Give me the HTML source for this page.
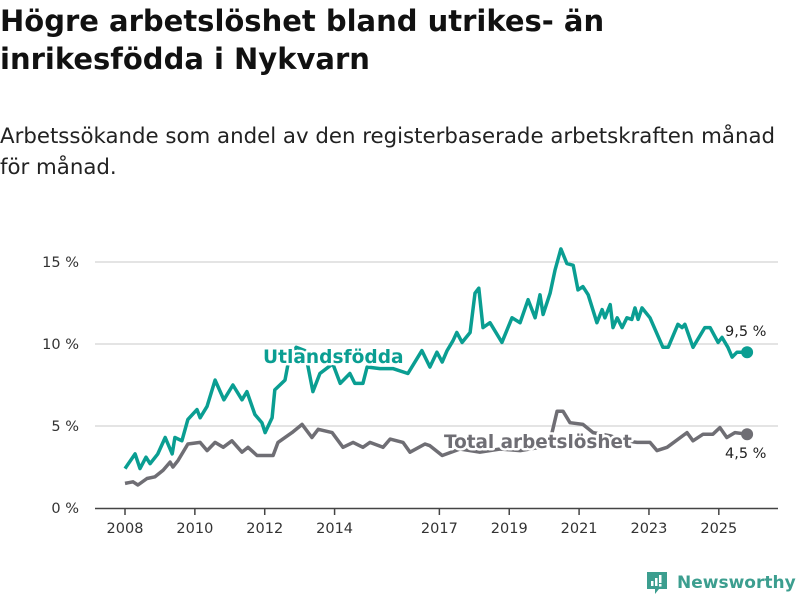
<!DOCTYPE html>
<html><head><meta charset="utf-8"><style>
body{margin:0;background:#fff;width:800px;height:600px;overflow:hidden;font-family:"DejaVu Sans","Liberation Sans",sans-serif;}
h1{position:absolute;left:0;top:2px;margin:0;font-size:29px;line-height:38px;font-weight:bold;color:#111;width:820px;white-space:nowrap}
.sub{position:absolute;left:0;top:121px;margin:0;font-size:21.3px;line-height:31px;color:#222;width:820px;white-space:nowrap}
svg{position:absolute;left:0;top:0}
</style></head><body>
<h1>Högre arbetslöshet bland utrikes- än<br>inrikesfödda i Nykvarn</h1>
<p class="sub">Arbetssökande som andel av den registerbaserade arbetskraften månad<br>för månad.</p>
<svg id="chart" width="800" height="600"></svg>
<script>
const yTicks=[0,5,10,15];
const yTickLabels=["0 %","5 %","10 %","15 %"];
const xTicks=[2008,2010,2012,2014,2017,2019,2021,2023,2025];
const foreignYears=[2008.00,2008.29,2008.43,2008.60,2008.72,2008.94,2009.15,2009.35,2009.43,2009.63,2009.80,2010.06,2010.15,2010.35,2010.58,2010.83,2011.09,2011.35,2011.49,2011.72,2011.92,2012.01,2012.21,2012.29,2012.58,2012.67,2012.90,2013.15,2013.38,2013.58,2013.95,2014.16,2014.44,2014.58,2014.81,2014.93,2015.30,2015.67,2016.10,2016.50,2016.73,2016.93,2017.08,2017.22,2017.39,2017.50,2017.65,2017.88,2018.02,2018.13,2018.25,2018.45,2018.79,2019.08,2019.31,2019.54,2019.74,2019.88,2019.97,2020.17,2020.31,2020.48,2020.65,2020.83,2020.97,2021.11,2021.26,2021.51,2021.66,2021.74,2021.89,2021.97,2022.09,2022.23,2022.37,2022.51,2022.60,2022.69,2022.80,2023.03,2023.40,2023.55,2023.83,2023.95,2024.03,2024.26,2024.60,2024.75,2024.98,2025.09,2025.26,2025.38,2025.52,2025.81];
const foreignValues=[2.4,3.3,2.4,3.1,2.7,3.3,4.3,3.3,4.3,4.1,5.4,6.0,5.5,6.2,7.8,6.6,7.5,6.6,7.1,5.7,5.2,4.6,5.5,7.2,7.8,8.8,9.8,9.6,7.1,8.2,8.8,7.6,8.2,7.6,7.6,8.6,8.5,8.5,8.2,9.6,8.6,9.5,8.9,9.6,10.2,10.7,10.1,10.7,13.1,13.4,11.0,11.3,10.1,11.6,11.3,12.7,11.6,13.0,11.8,13.1,14.5,15.8,14.9,14.8,13.3,13.5,13.0,11.3,12.1,11.6,12.4,11.0,11.6,11.0,11.6,11.5,12.2,11.5,12.2,11.6,9.8,9.8,11.2,11.0,11.2,9.8,11.0,11.0,10.1,10.4,9.8,9.2,9.5,9.5];
const totalYears=[2008.00,2008.23,2008.37,2008.63,2008.86,2009.09,2009.29,2009.37,2009.52,2009.80,2010.15,2010.35,2010.58,2010.81,2011.06,2011.35,2011.52,2011.78,2012.24,2012.38,2012.78,2013.07,2013.35,2013.53,2013.93,2014.24,2014.53,2014.81,2015.01,2015.39,2015.59,2015.96,2016.16,2016.59,2016.73,2017.08,2017.59,2018.16,2018.74,2019.31,2019.88,2020.17,2020.37,2020.54,2020.74,2021.11,2021.40,2021.89,2022.31,2022.66,2023.03,2023.23,2023.52,2024.09,2024.26,2024.55,2024.83,2025.03,2025.23,2025.46,2025.81];
const totalValues=[1.5,1.6,1.4,1.8,1.9,2.3,2.8,2.5,2.9,3.9,4.0,3.5,4.0,3.7,4.1,3.4,3.7,3.2,3.2,4.0,4.6,5.1,4.3,4.8,4.6,3.7,4.0,3.7,4.0,3.7,4.2,4.0,3.4,3.9,3.8,3.2,3.6,3.4,3.6,3.5,3.7,4.1,5.9,5.9,5.2,5.1,4.6,4.4,4.1,4.0,4.0,3.5,3.7,4.6,4.1,4.5,4.5,4.9,4.3,4.6,4.5];
const endLabels=["9,5 %","4,5 %"];

const NS="http://www.w3.org/2000/svg";
const svg=document.getElementById('chart');
const X=y=>125+(y-2008)*34.93;
const Y=v=>508-v*16.4;
function mk(tag,attrs,parent){const e=document.createElementNS(NS,tag);for(const k in attrs)e.setAttribute(k,attrs[k]);(parent||svg).appendChild(e);return e;}
yTicks.forEach((t,i)=>{
  if(t>0){const g=mk('line',{x1:95,x2:778,y1:Y(t),y2:Y(t),stroke:'#dcdcdc','stroke-width':1.5});
  
  }
  const tx=mk('text',{x:79,y:Y(t)+5,'text-anchor':'end','font-size':14.5,fill:'#333'});
  tx.textContent=yTickLabels[i];
  
  
});
const ax=mk('line',{x1:95,x2:778,y1:508.5,y2:508.5,stroke:'#444','stroke-width':1.5});


xTicks.forEach(t=>{
  const l=mk('line',{x1:X(t),x2:X(t),y1:508,y2:515,stroke:'#444','stroke-width':1.5});
  
  
  const tx=mk('text',{x:X(t),y:533,'text-anchor':'middle','font-size':14.5,fill:'#333'});
  tx.textContent=t;
  
  
});
function series(xs,vs,color,name){
  const d=xs.map((x,i)=>(i?'L':'M')+X(x).toFixed(1)+','+Y(vs[i]).toFixed(1)).join('');
  const p=mk('path',{d:d,fill:'none',stroke:color,'stroke-width':3.5,'stroke-linejoin':'round'});
  
  
  const n=xs.length-1;
  const c=mk('circle',{cx:X(xs[n]),cy:Y(vs[n]),r:6,fill:color});
  
  
}
series(totalYears,totalValues,'#6f6e74','total');
series(foreignYears,foreignValues,'#0a9e92','foreign');
function lbl(txt,x,y,color,name,size,bold,halo){
  const t=mk('text',{x:x,y:y,'font-size':size,fill:color,'font-weight':bold?'bold':'normal','paint-order':'stroke',stroke:halo?'#fff':'none','stroke-width':halo?5:0,'stroke-linejoin':'round'});
  t.textContent=txt;
  
  
}
lbl('Utlandsfödda',263,363,'#0a9e92','foreign-series-label',18.6,true,true);
lbl('Total arbetslöshet',444,448,'#6f6e74','total-series-label',18.4,true,true);
lbl(endLabels[0],725,336,'#222','foreign-end-label',14.5,false,true);
lbl(endLabels[1],725,458,'#222','total-end-label',14.5,false,true);
</script>
<div style="position:absolute;left:645px;top:570px;height:26px;display:flex;align-items:center">
<svg width="24" height="26" style="position:static"><path d="M2 2h20v17h-8l-4 5v-5H2z" fill="#3c9e8f"/><rect x="6" y="11" width="2.5" height="5" fill="#fff"/><rect x="10" y="8" width="2.5" height="8" fill="#fff"/><rect x="14" y="5" width="2.5" height="8" fill="#fff"/><rect x="14" y="14" width="2.5" height="2.5" fill="#fff"/></svg>
<span style="margin-left:8px;font-size:17px;font-weight:bold;color:#3c9e8f">Newsworthy</span></div>
</body></html>
